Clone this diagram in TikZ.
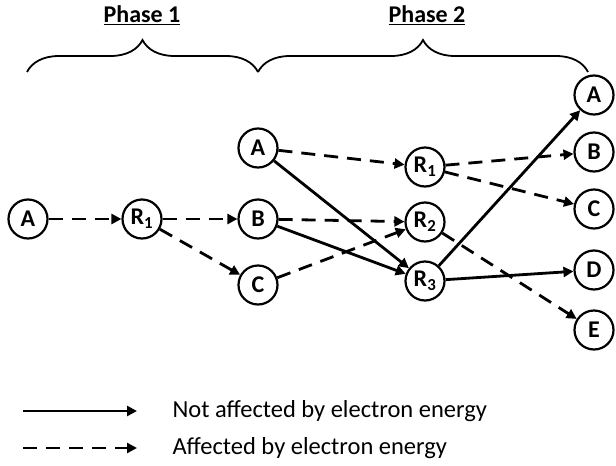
\documentclass[tikz,border=0pt]{standalone}
\usepackage{fontspec}
\setmainfont{Carlito}
\usepackage{tikz}
\usetikzlibrary{positioning,arrows.meta,decorations.pathreplacing}

\begin{document}
\begin{tikzpicture}[
    x=1pt, y=-1pt,
    species/.style={circle, draw, line width=2.2pt, minimum size=39pt, inner sep=0pt, font=\bfseries\fontsize{24}{26}\selectfont},
    flow/.style={-{Triangle[length=10pt, width=10pt]}, line width=2.8pt},
    eflow/.style={flow, dash pattern=on 14pt off 9pt},
    phase/.style={font=\bfseries\fontsize{24}{26}\selectfont}
]
    \useasboundingbox (0,0) rectangle (616,466);

    % Phase 1
    \node[species] (a0) at (28, 219) {A};
    \node[species] (r0) at (142, 219) {R\textsubscript{1}};

    % Middle column
    \node[species] (a1) at (258, 148) {A};
    \node[species] (b1) at (258, 219) {B};
    \node[species] (c1) at (258, 285) {C};

    % Phase 2 intermediates
    \node[species] (r1) at (425, 167) {R\textsubscript{1}};
    \node[species] (r2) at (425, 222) {R\textsubscript{2}};
    \node[species] (r3) at (425, 281) {R\textsubscript{3}};

    % Products
    \node[species] (a2) at (594, 95) {A};
    \node[species] (b2) at (594, 152) {B};
    \node[species] (c2) at (594, 209) {C};
    \node[species] (d2) at (594, 270) {D};
    \node[species] (e2) at (594, 330) {E};

    % Braces and labels
    \coordinate (p1l) at (27, 72);
    \coordinate (p1r) at (258, 72);
    \coordinate (p2r) at (588, 72);
    \draw[line width=1.8pt, decorate, decoration={brace, amplitude=32pt}] (p1l) -- (p1r);
    \draw[line width=1.8pt, decorate, decoration={brace, amplitude=32pt}] (p1r) -- (p2r);
    \node[phase] (ph1) at (142, 15) {\underline{Phase 1}};
    \node[phase] (ph2) at (427, 15) {\underline{Phase 2}};

    % Phase 1 arrows
    \draw[eflow] (a0) -- (r0);
    \draw[eflow] (r0) -- (b1);
    \draw[eflow] (r0) -- (c1);

    % Phase 2 arrows
    \draw[eflow] (a1) -- (r1);
    \draw[eflow] (b1) -- (r2);
    \draw[eflow] (c1) -- (r2);
    \draw[flow] (a1) -- (r3);
    \draw[flow] (b1) -- (r3);
    \draw[eflow] (r1) -- (b2);
    \draw[eflow] (r1) -- (c2);
    \draw[eflow] (r2) -- (e2);
    \draw[flow] (r3) -- (a2);
    \draw[flow] (r3) -- (d2);

    % Legend
    \coordinate (l1a) at (23, 411);
    \coordinate (l1b) at (137, 411);
    \coordinate (l2a) at (23, 448);
    \coordinate (l2b) at (137, 448);
    \draw[flow] (l1a) -- (l1b);
    \draw[eflow] (l2a) -- (l2b);
    \node[anchor=west, font=\fontsize{24.5}{27}\selectfont] (t1) at (169, 411) {Not affected by electron energy};
    \node[anchor=west, font=\fontsize{24.5}{27}\selectfont] (t2) at (169, 448) {Affected by electron energy};

\end{tikzpicture}
\end{document}
